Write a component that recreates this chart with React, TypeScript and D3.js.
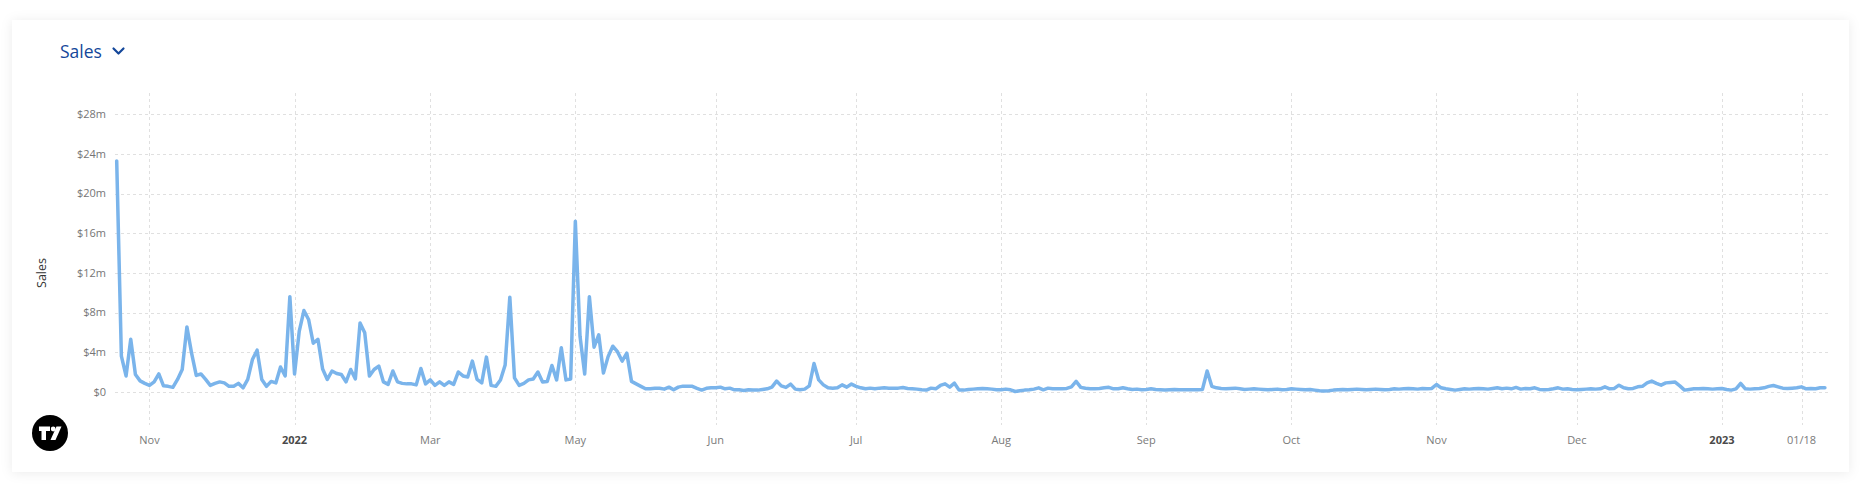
import React from "react";
import * as d3 from "d3";

// Sales in $ millions. Early part: one point every ~2 days (Oct 2021 – Apr 2022)
const salesOct21ToApr22 = [
  23.3, 3.6, 1.6, 5.3, 1.75, 1.1, 0.85, 0.65, 1.0, 1.8,
  0.6, 0.55, 0.45, 1.25, 2.25, 6.55, 3.9, 1.65, 1.8, 1.25,
  0.65, 0.85, 1.0, 0.9, 0.55, 0.55, 0.85, 0.4, 1.25, 3.25,
  4.2, 1.25, 0.55, 1.05, 0.9, 2.5, 1.6, 9.6, 1.8, 6.1,
  8.2, 7.3, 4.9, 5.3, 2.3, 1.25, 2.1, 1.85, 1.75, 1.0,
  2.25, 1.3, 6.95, 5.95, 1.6, 2.25, 2.6, 1.0, 0.75, 2.1,
  1.0, 0.85, 0.8, 0.8, 0.7, 2.35, 0.8, 1.2, 0.65, 1.0,
  0.65, 1.0, 0.75, 2.0, 1.6, 1.5, 3.1, 1.25, 0.9, 3.5,
  0.65, 0.55, 1.2, 2.7, 9.55, 1.4, 0.65, 0.85, 1.2, 1.3,
  2.0, 1.0, 1.05, 2.65, 1.2, 4.45, 1.2, 1.3,
];

// Daily, May 2022 – Aug 2022
const salesMayToAug22 = [
  17.2, 5.6, 1.8, 9.6, 4.5, 5.75, 1.9, 3.55, 4.6, 4.05,
  3.1, 3.9, 1.05, 0.8, 0.55, 0.3, 0.3, 0.35, 0.35, 0.27,
  0.47, 0.2, 0.47, 0.57, 0.57, 0.55, 0.35, 0.17, 0.35, 0.4,
  0.4, 0.47, 0.3, 0.37, 0.2, 0.2, 0.14, 0.2, 0.17, 0.17,
  0.24, 0.3, 0.47, 1.08, 0.6, 0.44, 0.78, 0.27, 0.2, 0.27,
  0.6, 2.85, 1.2, 0.7, 0.4, 0.37, 0.4, 0.7, 0.47, 0.78,
  0.55, 0.4, 0.3, 0.37, 0.3, 0.37, 0.4, 0.37, 0.37, 0.37,
  0.44, 0.34, 0.3, 0.27, 0.2, 0.17, 0.37, 0.3, 0.64, 0.8,
  0.47, 0.87, 0.17, 0.17, 0.24, 0.27, 0.3, 0.34, 0.3, 0.27,
  0.2, 0.2, 0.27, 0.2, 0.03, 0.1, 0.17, 0.2, 0.27, 0.4,
  0.2, 0.37,
];

// Daily, Aug 2022 – Jan 2023
const salesAugToJan23 = [
  0.3, 0.3, 0.3, 0.34, 0.5, 1.05, 0.45, 0.35, 0.3, 0.3,
  0.34, 0.4, 0.45, 0.3, 0.3, 0.4, 0.3, 0.24, 0.27, 0.2,
  0.24, 0.3, 0.24, 0.2, 0.17, 0.2, 0.24, 0.2, 0.2, 0.2,
  0.2, 0.2, 0.24, 2.1, 0.55, 0.4, 0.34, 0.3, 0.34, 0.37,
  0.3, 0.24, 0.27, 0.3, 0.27, 0.24, 0.2, 0.24, 0.27, 0.2,
  0.24, 0.3, 0.27, 0.24, 0.2, 0.24, 0.17, 0.1, 0.07, 0.1,
  0.17, 0.2, 0.24, 0.2, 0.24, 0.27, 0.24, 0.2, 0.24, 0.27,
  0.24, 0.2, 0.24, 0.3, 0.27, 0.3, 0.34, 0.3, 0.27, 0.34,
  0.3, 0.34, 0.74, 0.4, 0.3, 0.24, 0.17, 0.24, 0.3, 0.27,
  0.3, 0.34, 0.3, 0.27, 0.34, 0.4, 0.3, 0.37, 0.3, 0.44,
  0.27, 0.34, 0.3, 0.4, 0.24, 0.2, 0.24, 0.3, 0.4, 0.27,
  0.3, 0.24, 0.2, 0.24, 0.27, 0.3, 0.27, 0.3, 0.5, 0.3,
  0.34, 0.67, 0.4, 0.3, 0.34, 0.5, 0.55, 0.9, 1.08, 0.85,
  0.67, 0.9, 0.94, 0.98, 0.6, 0.17, 0.24, 0.3, 0.3, 0.34,
  0.3, 0.27, 0.3, 0.34, 0.24, 0.17, 0.3, 0.84, 0.3, 0.27,
  0.3, 0.34, 0.4, 0.55, 0.64, 0.5, 0.37, 0.34, 0.37, 0.4,
  0.5, 0.3, 0.34, 0.3, 0.4, 0.4,
];

const xTickLabels = ["Nov", "2022", "Mar", "May", "Jun", "Jul", "Aug", "Sep", "Oct", "Nov", "Dec", "2023", "01/18"];
const xTickIndex = [7, 38, 67, 98, 128, 158, 189, 220, 251, 282, 312, 343, 360];
const boldTickLabels = ["2022", "2023"];
const yTickValues = [0, 4, 8, 12, 16, 20, 24, 28];

const FONT = "'Open Sans', 'Noto Sans', sans-serif";

export default function App() {
  const sales = [...salesOct21ToApr22, ...salesMayToAug22, ...salesAugToJan23];
  const W = 1870;
  const H = 491;
  const plotLeft = 115;
  const plotRight = 1829;
  const plotTop = 93;
  const plotBottom = 425;

  const x = d3.scaleLinear().domain([0, sales.length - 1]).range([116.7, 1824.9]);
  const y = d3.scaleLinear().domain([0, 28]).range([391.8, 114.3]);
  const line = d3
    .line<number>()
    .x((_, i) => x(i))
    .y((d) => y(d));

  return (
    <div style={{ position: "fixed", left: 0, top: 0, width: W, height: H, background: "#fff" }}>
      <svg width={W} height={H} style={{ display: "block" }}>
        <defs>
          <filter id="cardShadow" x="-5%" y="-20%" width="110%" height="140%">
            <feDropShadow dx="0" dy="1" stdDeviation="6" floodColor="#000" floodOpacity="0.08" />
          </filter>
        </defs>
        <rect x={0} y={0} width={W} height={H} fill="#ffffff" />
        <rect x={12} y={20} width={1837} height={452} fill="#fff" filter="url(#cardShadow)" />

        {/* title */}
        <text x={60} y={58} fontFamily={FONT} fontSize={17.5} fill="#14479a">
          Sales
        </text>
        <polyline
          points="113.5,48.5 118.5,53.5 123.5,48.5"
          fill="none"
          stroke="#14479a"
          strokeWidth={2.2}
          strokeLinecap="round"
          strokeLinejoin="round"
        />

        {/* grid */}
        <g stroke="#e0e0e0" strokeWidth={1} strokeDasharray="3,3">
          {yTickValues.map((v) => (
            <line key={"h" + v} x1={plotLeft} x2={plotRight} y1={Math.round(y(v)) + 0.5} y2={Math.round(y(v)) + 0.5} />
          ))}
          {xTickIndex.map((idx, k) => (
            <line
              key={"v" + k}
              x1={Math.round(x(idx)) + 0.5}
              x2={Math.round(x(idx)) + 0.5}
              y1={plotTop}
              y2={plotBottom}
            />
          ))}
        </g>

        {/* y tick labels */}
        <g fontFamily={FONT} fontSize={11} fill="#757575" textAnchor="end">
          {yTickValues.map((v) => (
            <text key={"yl" + v} x={106} y={y(v)} dy="0.35em">
              {"$" + v + (v === 0 ? "" : "m")}
            </text>
          ))}
        </g>

        {/* y axis title */}
        <text
          transform="translate(46,273) rotate(-90)"
          textAnchor="middle"
          fontFamily={FONT}
          fontSize={12.5}
          fill="#333"
        >
          Sales
        </text>

        {/* x tick labels */}
        <g fontFamily={FONT} fontSize={11} textAnchor="middle">
          {xTickLabels.map((lab, k) => {
            const bold = boldTickLabels.includes(lab);
            return (
              <text
                key={"xl" + k}
                x={x(xTickIndex[k])}
                y={440}
                dy="0.35em"
                fill={bold ? "#4a4a4a" : "#7a7a7a"}
                fontWeight={bold ? 700 : 400}
              >
                {lab}
              </text>
            );
          })}
        </g>

        {/* series */}
        <path
          d={line(sales) || ""}
          fill="none"
          stroke="#7ab4eb"
          strokeWidth={3.5}
          strokeLinejoin="round"
          strokeLinecap="round"
        />

        {/* logo */}
        <g transform="translate(50,433)">
          <circle r={18} fill="#000" />
          <path d="M-11,-6.5 H0 V-2 H-4 V7 H-8.5 V-2 H-11 Z" fill="#fff" />
          <circle cx={3.2} cy={-4} r={2.4} fill="#fff" />
          <path d="M6.5,-6.5 H11.5 L5.5,7 H0.5 Z" fill="#fff" />
        </g>
      </svg>
    </div>
  );
}
